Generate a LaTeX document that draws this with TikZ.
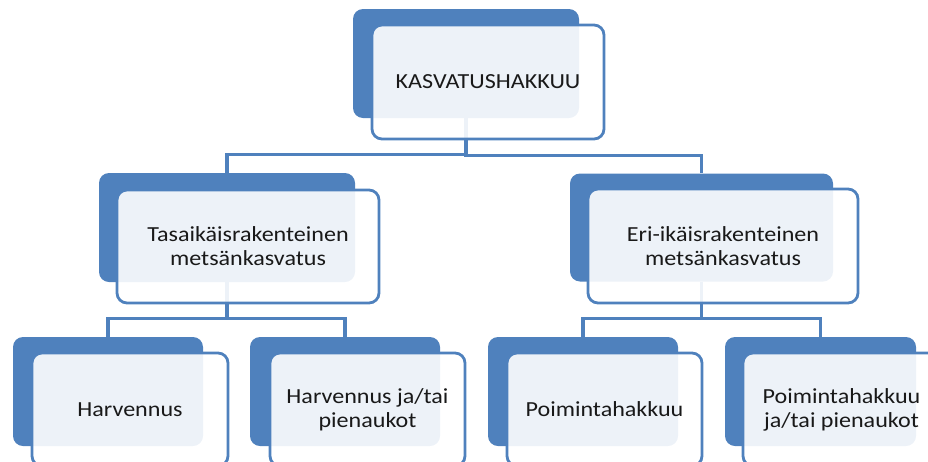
\documentclass[tikz,border=0pt]{standalone}
\usepackage{fontspec}
\setmainfont{Carlito}[FakeStretch=1.12]
\usepackage{xcolor}
\definecolor{Col1}{RGB}{79,129,189}
\usepackage{tikz}
\tikzstyle{Back}=[rectangle,rounded corners=10pt,fill=Col1,inner sep=0pt]
\tikzstyle{Front}=[rectangle,rounded corners=10pt,draw=Col1,line width=2.8pt,
fill=white,fill opacity=.9,text opacity=1,inner sep=0pt,align=center,
font=\fontsize{21.5}{24}\selectfont,text=black!90]
\tikzstyle{Edge}=[draw=Col1,line width=3.3pt]

\begin{document}
\begin{tikzpicture}[x=1pt,y=-1pt]
        \useasboundingbox(0,0)rectangle(928,461);
        \clip(0,0)rectangle(928,461);
        \node[Back,minimum width=226,minimum height=109](B0)at(466,63.5){};
        \node[Back,minimum width=256,minimum height=109](B1)at(227,227.5){};
        \node[Back,minimum width=263,minimum height=108](B2)at(701.5,227.5){};
        \node[Back,minimum width=190,minimum height=109](B3)at(108,391.5){};
        \node[Back,minimum width=190,minimum height=109](B4)at(345,391.5){};
        \node[Back,minimum width=190,minimum height=109](B5)at(583,391.5){};
        \node[Back,minimum width=191,minimum height=109](B6)at(820.5,391.5){};
        \draw[Edge](B0.south)|-([yshift=18pt]B1.north)--(B1.north);
        \draw[Edge](B0.south)|-([yshift=18pt]B2.north)--(B2.north);
        \draw[Edge](B1.south)|-([yshift=18pt]B3.north)--(B3.north);
        \draw[Edge](B1.south)|-([yshift=18pt]B4.north)--(B4.north);
        \draw[Edge](B2.south)|-([yshift=18pt]B5.north)--(B5.north);
        \draw[Edge](B2.south)|-([yshift=18pt]B6.north)--(B6.north);
        \node[Front,minimum width=232,minimum height=114](F0)at(488,82)
            {KASVATUSHAKKUU};
        \node[Front,minimum width=262,minimum height=113](F1)at(248,246.5)
            {Tasaikäisrakenteinen\\metsänkasvatus};
        \node[Front,minimum width=270,minimum height=114](F2)at(723,246)
            {Eri-ikäisrakenteinen\\metsänkasvatus};
        \node[Front,minimum width=196,minimum height=113](F3)at(130,409.5)
            {Harvennus};
        \node[Front,minimum width=195,minimum height=113](F4)at(367.5,409.5)
            {Harvennus ja/tai\\pienaukot};
        \node[Front,minimum width=195,minimum height=113](F5)at(604.5,409.5)
            {Poimintahakkuu};
        \node[Front,minimum width=197,minimum height=113](F6)at(841.5,409.5)
            {Poimintahakkuu\\ja/tai pienaukot};
    \end{tikzpicture}
\end{document}
